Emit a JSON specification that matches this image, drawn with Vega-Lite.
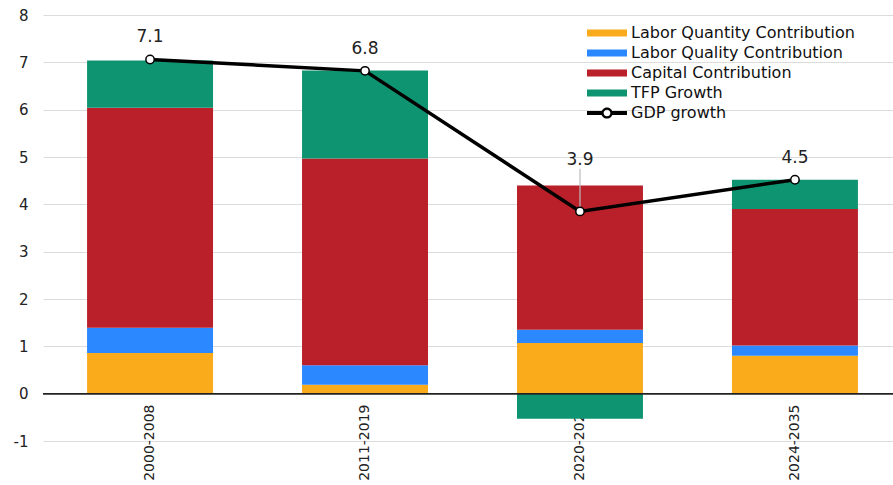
{
  "$schema": "https://vega.github.io/schema/vega-lite/v6.json",
  "width": 859,
  "height": 426,
  "autosize": {"type": "none"},
  "padding": {"left": 43, "top": 15, "right": -9, "bottom": 44},
  "background": "white",
  "config": {
    "font": "DejaVu Sans",
    "view": {"stroke": null},
    "axis": {"labelFont": "DejaVu Sans", "labelColor": "#222"}
  },
  "datasets": {
    "bars": [
      {"period": "2000-2008", "component": "Labor Quantity Contribution", "value": 0.86, "order": 1},
      {"period": "2000-2008", "component": "Labor Quality Contribution", "value": 0.53, "order": 2},
      {"period": "2000-2008", "component": "Capital Contribution", "value": 4.65, "order": 3},
      {"period": "2000-2008", "component": "TFP Growth", "value": 1.0, "order": 4},
      {"period": "2011-2019", "component": "Labor Quantity Contribution", "value": 0.19, "order": 1},
      {"period": "2011-2019", "component": "Labor Quality Contribution", "value": 0.41, "order": 2},
      {"period": "2011-2019", "component": "Capital Contribution", "value": 4.37, "order": 3},
      {"period": "2011-2019", "component": "TFP Growth", "value": 1.86, "order": 4},
      {"period": "2020-2023", "component": "Labor Quantity Contribution", "value": 1.07, "order": 1},
      {"period": "2020-2023", "component": "Labor Quality Contribution", "value": 0.28, "order": 2},
      {"period": "2020-2023", "component": "Capital Contribution", "value": 3.05, "order": 3},
      {"period": "2020-2023", "component": "TFP Growth", "value": -0.53, "order": 4},
      {"period": "2024-2035", "component": "Labor Quantity Contribution", "value": 0.80, "order": 1},
      {"period": "2024-2035", "component": "Labor Quality Contribution", "value": 0.22, "order": 2},
      {"period": "2024-2035", "component": "Capital Contribution", "value": 2.88, "order": 3},
      {"period": "2024-2035", "component": "TFP Growth", "value": 0.62, "order": 4}
    ],
    "gdp": [
      {"period": "2000-2008", "gdp": 7.06, "label": "7.1"},
      {"period": "2011-2019", "gdp": 6.82, "label": "6.8"},
      {"period": "2020-2023", "gdp": 3.85, "label": "3.9"},
      {"period": "2024-2035", "gdp": 4.52, "label": "4.5"}
    ]
  },
  "encoding": {
    "x": {
      "field": "period",
      "type": "nominal",
      "sort": null,
      "title": null,
      "scale": {"type": "band", "paddingInner": 0.414, "paddingOuter": 0.205},
      "axis": {"labelAngle": -90, "labelFontSize": 14, "offset": -47, "domain": false, "ticks": false, "labelPadding": 10, "grid": false}
    }
  },
  "layer": [
    {
      "data": {"name": "bars"},
      "mark": {"type": "bar"},
      "encoding": {
        "y": {
          "field": "value",
          "type": "quantitative",
          "stack": "zero",
          "title": null,
          "scale": {"domain": [-1, 8], "nice": false, "zero": false},
          "axis": {"values": [-1, 0, 1, 2, 3, 4, 5, 6, 7, 8], "labelExpr": "'' + datum.value", "labelFontSize": 15, "grid": true, "gridColor": "#dcdcdc", "gridWidth": 1.2, "domain": false, "ticks": false, "labelPadding": 15}
        },
        "order": {"field": "order", "type": "quantitative"},
        "color": {
          "field": "component",
          "type": "nominal",
          "scale": {
            "domain": ["Labor Quantity Contribution", "Labor Quality Contribution", "Capital Contribution", "TFP Growth", "GDP growth"],
            "range": ["#F9AB1C", "#2B88FE", "#B92029", "#0F9472", "#000000"]
          },
          "legend": {
            "title": null,
            "orient": "none",
            "legendX": 556,
            "legendY": 10,
            "labelFont": "DejaVu Sans",
            "labelFontSize": 16,
            "labelColor": "#111",
            "labelLimit": 400,
            "labelOffset": 16,
            "rowPadding": 4,
            "symbolSize": 256,
            "symbolType": "M-2.5,-0.45L2.5,-0.45L2.5,0.45L-2.5,0.45Z",
            "symbolOpacity": 1,
            "symbolStrokeWidth": 0,
            "encode": {
              "symbols": {
                "update": {
                  "shape": {"signal": "datum.value === 'GDP growth' ? 'M-2.5,-0.25L-0.65,-0.25L-0.65,0.25L-2.5,0.25Z M0.65,-0.25L2.5,-0.25L2.5,0.25L0.65,0.25Z M0.7,0A0.7,0.7 0 1 1 -0.7,0A0.7,0.7 0 1 1 0.7,0Z M0.42,0A0.42,0.42 0 1 0 -0.42,0A0.42,0.42 0 1 0 0.42,0Z' : 'M-2.5,-0.45L2.5,-0.45L2.5,0.45L-2.5,0.45Z'"}
                }
              }
            }
          }
        }
      }
    },
    {
      "data": {"name": "gdp"},
      "mark": {"type": "rule", "color": "#222", "strokeWidth": 1.2},
      "encoding": {"y": {"datum": 0, "type": "quantitative"}, "x": {"value": 0}, "x2": {"value": 859}}
    },
    {
      "data": {"name": "gdp"},
      "transform": [{"filter": "datum.period === '2020-2023'"}],
      "mark": {"type": "rule", "color": "#bbbbbb", "strokeWidth": 1.2},
      "encoding": {"y": {"field": "gdp", "type": "quantitative"}, "y2": {"datum": 4.75}}
    },
    {
      "data": {"name": "gdp"},
      "mark": {"type": "line", "color": "black", "strokeWidth": 3.5},
      "encoding": {"y": {"field": "gdp", "type": "quantitative"}}
    },
    {
      "data": {"name": "gdp"},
      "mark": {"type": "point", "filled": true, "fill": "white", "stroke": "black", "strokeWidth": 1.5, "size": 70, "opacity": 1},
      "encoding": {"y": {"field": "gdp", "type": "quantitative"}}
    },
    {
      "data": {"name": "gdp"},
      "transform": [{"filter": "datum.period !== '2020-2023'"}],
      "mark": {"type": "text", "dy": -22, "fontSize": 17, "font": "DejaVu Sans", "color": "#222"},
      "encoding": {"y": {"field": "gdp", "type": "quantitative"}, "text": {"field": "label"}}
    },
    {
      "data": {"name": "gdp"},
      "transform": [{"filter": "datum.period === '2020-2023'"}],
      "mark": {"type": "text", "dy": -51, "fontSize": 17, "font": "DejaVu Sans", "color": "#222"},
      "encoding": {"y": {"field": "gdp", "type": "quantitative"}, "text": {"field": "label"}}
    }
  ]
}
